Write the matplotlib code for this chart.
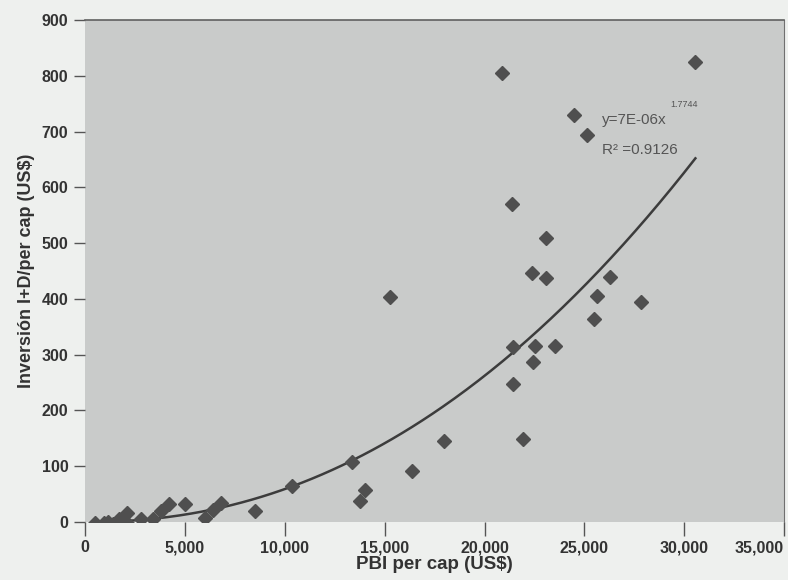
import matplotlib.pyplot as plt
import numpy as np

# PBI per cap (US$) vs Inversion I+D per cap (US$)
pbi = [500, 950, 1160, 1410, 1700, 2120, 2130, 2820, 3400, 3790, 4190, 5010,
       6000, 6400, 6810, 8520, 10350, 13380, 13790, 14020, 15290, 16350, 17950,
       20890, 21390, 21420, 21420, 21930, 22370, 22450, 22550, 23080, 23100,
       23530, 24480, 25130, 25490, 25620, 26290, 27850, 30560]
inversion = [-1, -2, 0, -3, 5, 17, -3, 6, 6, 20, 33, 33,
             7, 21, 34, 20, 64, 107, 38, 57, 403, 91, 145,
             805, 571, 314, 248, 148, 446, 286, 315, 509, 438,
             316, 730, 693, 364, 405, 440, 395, 825]

# trend line as drawn (power curve)
trend_b = 2.15
trend_end = 652

x_ticks = [0, 5000, 10000, 15000, 20000, 25000, 30000, 35000]
y_ticks = [0, 100, 200, 300, 400, 500, 600, 700, 800, 900]

plt.rcParams['font.family'] = ['Liberation Sans', 'DejaVu Sans']

fig = plt.figure(figsize=(7.88, 5.8), dpi=100, facecolor='#eef0ee')
ax = fig.add_axes([0.108, 0.1, 0.887, 0.8655])
ax.set_facecolor('#c9cbca')

ax.plot(pbi, inversion, 'D', color='#4f4f4f', markersize=7, zorder=3)

xs = np.linspace(min(pbi), max(pbi), 300)
ys = trend_end * (xs / max(pbi)) ** trend_b
ax.plot(xs, ys, color='#3c3c3c', linewidth=1.8, zorder=2)

ax.text(25900, 721, 'y=7E-06x', fontsize=11, color='#555555', va='center')
ax.text(29300, 748, '1.7744', fontsize=6.5, color='#555555', va='center')
ax.text(25900, 667, 'R² =0.9126', fontsize=11, color='#555555', va='center')

ax.set_xlim(0, 35000)
ax.set_ylim(0, 900)
ax.set_xticks(x_ticks)
ax.set_xticklabels([f'{v:,}' for v in x_ticks])
ax.set_yticks(y_ticks)

for s in ['left', 'bottom']:
    ax.spines[s].set_visible(False)
ax.spines['top'].set_color('#606060')
ax.spines['top'].set_linewidth(1.2)
ax.spines['right'].set_color('#707070')
ax.spines['right'].set_linewidth(0.8)

ax.tick_params(axis='x', direction='out', length=10, width=1, color='#555555',
               labelsize=11.5, labelcolor='#333333', pad=3)
ax.tick_params(axis='y', direction='out', length=8, width=1, color='#555555',
               labelsize=11.5, labelcolor='#333333', pad=4)
for lab in ax.get_xticklabels() + ax.get_yticklabels():
    lab.set_fontweight('bold')
ax.get_xticklabels()[-1].set_horizontalalignment('right')

ax.set_xlabel('PBI per cap (US$)', fontsize=13.5, fontweight='bold', color='#333333', labelpad=1)
ax.set_ylabel('Inversión I+D/per cap (US$)', fontsize=13, fontweight='bold', color='#333333', labelpad=5)

plt.savefig('out.png', dpi=100, facecolor=fig.get_facecolor())
